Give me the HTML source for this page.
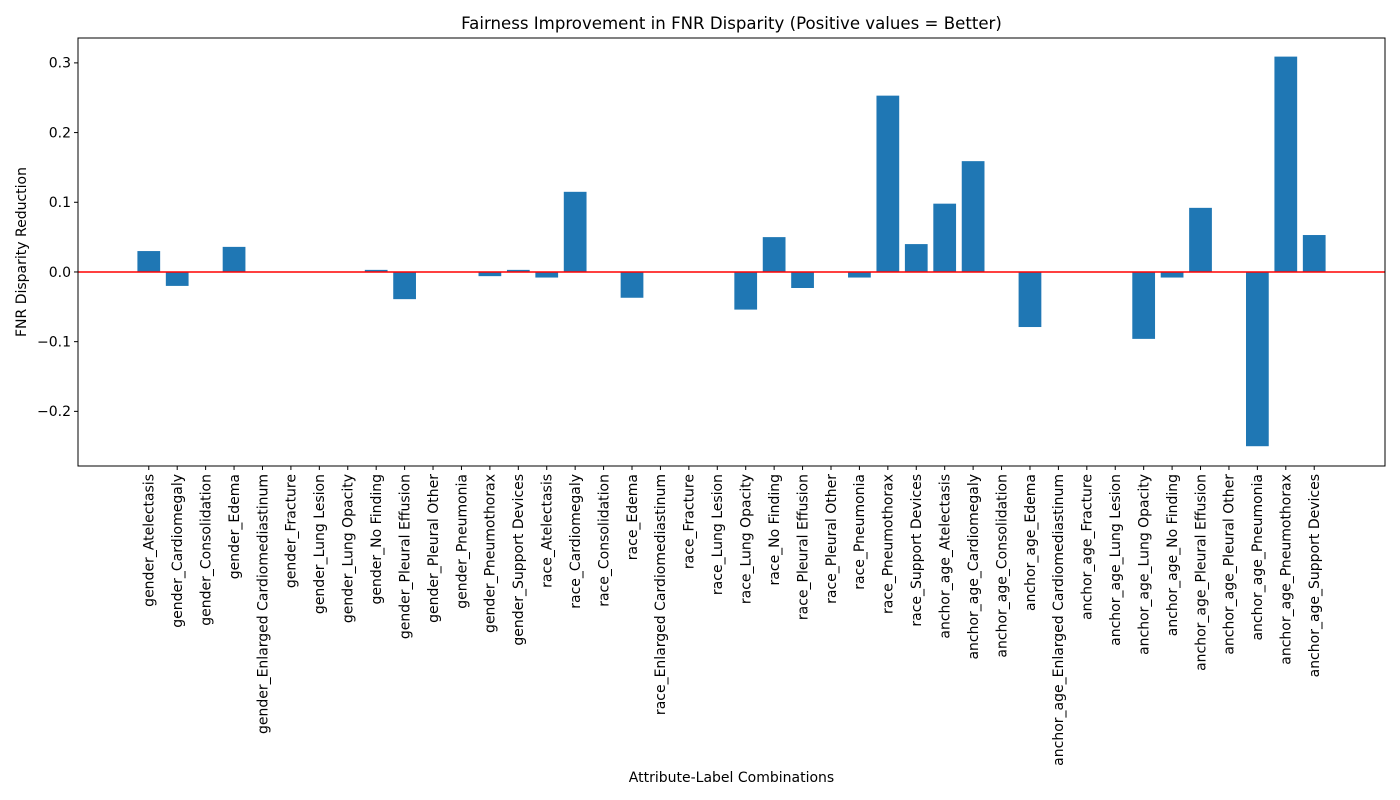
<!DOCTYPE html>
<html><head><meta charset="utf-8"><style>
html,body{margin:0;padding:0;background:#fff;}
svg{display:block;font-family:"DejaVu Sans","Liberation Sans",sans-serif;}
</style></head><body>
<svg id="chart" width="1400" height="800"></svg>
<script>
const attributes = ["gender","race","anchor_age"];
const labels = ["Atelectasis","Cardiomegaly","Consolidation","Edema","Enlarged Cardiomediastinum","Fracture","Lung Lesion","Lung Opacity","No Finding","Pleural Effusion","Pleural Other","Pneumonia","Pneumothorax","Support Devices"];
const genderValues = [0.030,-0.020,0,0.036,0,0,0,0,0.003,-0.039,0,0,-0.006,0.003];
const raceValues = [-0.008,0.115,0,-0.037,0,0,0,-0.054,0.050,-0.023,0,-0.008,0.253,0.040];
const ageValues = [0.098,0.159,0,-0.079,0,0,0,-0.096,-0.008,0.092,0,-0.250,0.309,0.053];
const yTicks = [-0.2,-0.1,0.0,0.1,0.2,0.3];
const yTickLabels = ["\u22120.2","\u22120.1","0.0","0.1","0.2","0.3"];

const categories = [];
attributes.forEach(a => labels.forEach(l => categories.push(a + "_" + l)));
const values = genderValues.concat(raceValues, ageValues);

const svg = document.getElementById('chart');
const NS = "http://www.w3.org/2000/svg";
const L = 78, R = 1385, T = 38, B = 466;
const xMin = -2.49, xMax = categories.length - 1 + 2.49;
const yMin = -0.2784, yMax = 0.3357;
const xs = v => L + (v - xMin) / (xMax - xMin) * (R - L);
const ys = v => B - (v - yMin) / (yMax - yMin) * (B - T);
const unit = (R - L) / (xMax - xMin);
function mk(tag, attrs, parent) {
  const e = document.createElementNS(NS, tag);
  for (const k in attrs) e.setAttribute(k, attrs[k]);
  (parent || svg).appendChild(e);
  return e;
}

const bars = mk('g', {});


values.forEach((v, i) => {
  const y0 = ys(0), y1 = ys(v);
  const r = mk('rect', {x: xs(i) - 0.4 * unit, y: Math.min(y0, y1), width: 0.8 * unit, height: Math.max(Math.abs(y1 - y0), 0), fill: '#1f77b4'}, bars);
  
  
});

const zl = mk('line', {x1: L, x2: R, y1: ys(0), y2: ys(0), stroke: '#ff0000', 'stroke-width': 1.5});



const frame = mk('rect', {x: L, y: T, width: R - L, height: B - T, fill: 'none', stroke: '#000', 'stroke-width': 1});



const yAxis = mk('g', {});


yTicks.forEach((t, i) => {
  const y = ys(t);
  mk('line', {x1: L - 4, x2: L, y1: y, y2: y, stroke: '#000'}, yAxis);
  const tx = mk('text', {x: L - 7, y: y + 4.8, 'text-anchor': 'end', 'font-size': 14}, yAxis);
  tx.textContent = yTickLabels[i];
  
  
});

const xAxis = mk('g', {});


categories.forEach((c, i) => {
  const x = xs(i);
  mk('line', {x1: x, x2: x, y1: B, y2: B + 4, stroke: '#000'}, xAxis);
  const tx = mk('text', {x: 0, y: 0, 'text-anchor': 'end', 'font-size': 14, transform: `translate(${x + 4.8},${B + 8}) rotate(-90)`}, xAxis);
  tx.textContent = c;
  
  
});

const title = mk('text', {x: (L + R) / 2, y: 29, 'text-anchor': 'middle', 'font-size': 16.6});
title.textContent = 'Fairness Improvement in FNR Disparity (Positive values = Better)';



const xl = mk('text', {x: (L + R) / 2, y: 782, 'text-anchor': 'middle', 'font-size': 14});
xl.textContent = 'Attribute-Label Combinations';



const yl = mk('text', {x: 0, y: 0, 'text-anchor': 'middle', 'font-size': 14, transform: `translate(26,${(T + B) / 2}) rotate(-90)`});
yl.textContent = 'FNR Disparity Reduction';


</script>
</body></html>
